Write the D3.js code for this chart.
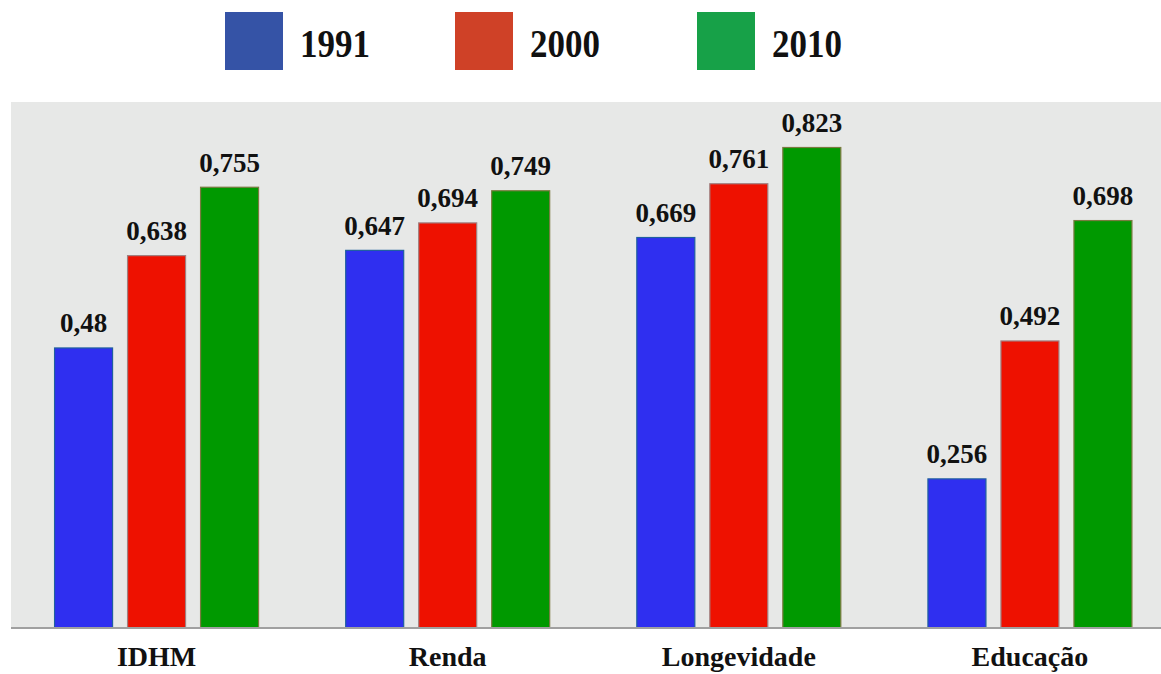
<!DOCTYPE html>
<html><head><meta charset="utf-8">
<script src="https://cdn.jsdelivr.net/npm/d3@7"></script>
<style>html,body{margin:0;padding:0;background:#fff;overflow:hidden}
text{font-family:'Liberation Serif','Times New Roman',serif;font-weight:bold}</style>
</head><body>
<svg id="c" width="1161" height="674"></svg>
<script>
const categories = ["IDHM", "Renda", "Longevidade", "Educação"];
const years = ["1991", "2000", "2010"];
const v1991 = [0.48, 0.647, 0.669, 0.256];
const v2000 = [0.638, 0.694, 0.761, 0.492];
const v2010 = [0.755, 0.749, 0.823, 0.698];
const labels1991 = ["0,48", "0,647", "0,669", "0,256"];
const labels2000 = ["0,638", "0,694", "0,761", "0,492"];
const labels2010 = ["0,755", "0,749", "0,823", "0,698"];

const series = [
  {year: years[0], values: v1991, labels: labels1991, fill: "#2f2ff0", stroke: "#1f5f9f", legend: "#3553a6"},
  {year: years[1], values: v2000, labels: labels2000, fill: "#ee1100", stroke: "#a08080", legend: "#cf4127"},
  {year: years[2], values: v2010, labels: labels2010, fill: "#009900", stroke: "#7a7a40", legend: "#17a148"}
];

const svg = d3.select("#c");
const plotLeft = 11, plotRight = 1175.5, plotTop = 102, plotBottom = 628;
const y = d3.scaleLinear().domain([0, 0.9]).range([plotBottom, plotTop]);
const x0 = d3.scaleBand().domain(categories).range([plotLeft, plotRight]).paddingInner(0).paddingOuter(0);
const groupW = 3*59 + 2*14;
const x1b = d3.scaleBand().domain(years).range([(x0.bandwidth()-groupW)/2, (x0.bandwidth()+groupW)/2]).paddingInner(14/73).paddingOuter(0);

svg.append("rect").attr("x", plotLeft).attr("y", plotTop)
  .attr("width", 1161 - plotLeft).attr("height", plotBottom - plotTop)
  .attr("fill", "#e7e8e7");

const g = svg.append("g");
series.forEach((s) => {
  g.selectAll(null).data(categories).enter().append("rect")
    .attr("x", (c) => x0(c) + x1b(s.year) + 0.5)
    .attr("y", (c, i) => y(s.values[i]) + 0.5)
    .attr("width", x1b.bandwidth() - 1)
    .attr("height", (c, i) => plotBottom - y(s.values[i]) - 0.5)
    .attr("fill", s.fill).attr("stroke", s.stroke).attr("stroke-width", 1.2);
  g.selectAll(null).data(categories).enter().append("text")
    .attr("x", (c) => x0(c) + x1b(s.year) + x1b.bandwidth()/2)
    .attr("y", (c, i) => y(s.values[i]) - 15)
    .attr("text-anchor", "middle")
    .attr("font-size", 27)
    .attr("fill", "#111")
    .text((c, i) => s.labels[i]);
});

// axis
const axis = d3.axisBottom(x0).tickSize(0).tickPadding(0);
const ax = svg.append("g").attr("transform", `translate(0,${plotBottom})`).call(axis);
ax.attr("font-family", null).attr("font-size", null);
ax.select(".domain").attr("stroke", "#a0a0a0").attr("stroke-width", 2)
  .attr("d", `M${plotLeft},0H1161`);
ax.selectAll("text")
  .attr("font-size", 28).attr("fill", "#111")
  .attr("y", 38).attr("dy", null);

// legend
const legendX = [225, 455, 697];
const lg = svg.append("g");
series.forEach((s, i) => {
  lg.append("rect").attr("x", legendX[i]).attr("y", 12).attr("width", 58).attr("height", 58).attr("fill", s.legend);
  lg.append("text").attr("x", legendX[i] + 75).attr("y", 57)
    .attr("font-size", 39).attr("fill", "#111")
    .attr("textLength", 70).attr("lengthAdjust", "spacingAndGlyphs")
    .text(s.year);
});
</script>
</body></html>
